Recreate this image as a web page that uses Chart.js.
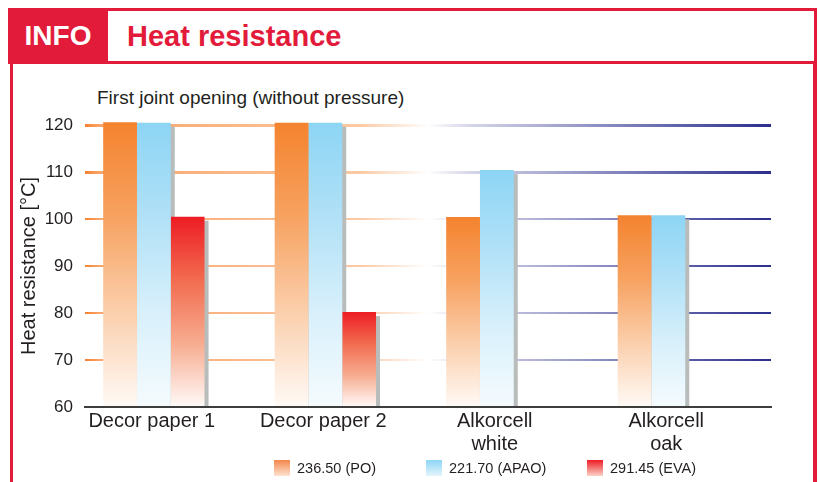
<!DOCTYPE html>
<html>
<head>
<meta charset="utf-8">
<script src="https://cdn.jsdelivr.net/npm/chart.js@4.4.1/dist/chart.umd.min.js"></script>
<style>
  body { margin: 0; width: 820px; height: 482px; overflow: hidden; background: #fff; position: relative;
         font-family: "Liberation Sans", Arial, sans-serif; color: #231f20; }
  .head { position: absolute; left: 8px; top: 8px; width: 803px; height: 50px; border: 3px solid #e31b3b; }
  .info { position: absolute; left: 8px; top: 8px; width: 100px; height: 56px; background: #e31b3b; color: #fff;
          font-weight: bold; font-size: 28px; line-height: 56px; text-align: center; }
  .title { position: absolute; left: 127px; top: 8px; line-height: 56px; font-size: 29px; font-weight: bold; color: #e31b3b; }
  .frame { position: absolute; left: 10px; top: 64px; width: 800px; height: 440px;
           border-left: 3px solid #e31b3b; border-right: 4px solid #e31b3b; }
  .sub { position: absolute; left: 97px; top: 87px; font-size: 19px; }
  .wrap { position: absolute; left: 13px; top: 64px; width: 799px; height: 401px; }
  #legend { position: absolute; left: 274px; top: 459px; display: grid; grid-template-columns: 152px 161px auto;
            font-size: 14.5px; line-height: 18px; }
  #legend span.sw { display: inline-block; width: 16px; height: 16px; margin-right: 7px; vertical-align: -3px; }
</style>
</head>
<body>
<div class="frame"></div>
<div class="head"></div>
<div class="info">INFO</div>
<div class="title">Heat resistance</div>
<div class="sub">First joint opening (without pressure)</div>
<div class="wrap"><canvas id="heatChart"></canvas></div>
<div id="legend"></div>

<script>
const categories = [["Decor paper 1"], ["Decor paper 2"], ["Alkorcell", "white"], ["Alkorcell", "oak"]];
const poValues = [120.6, 120.5, 100.4, 100.8];
const apaoValues = [120.5, 120.5, 110.4, 100.8];
const evaValues = [100.5, 80.2, null, null];
const seriesLabels = ["236.50 (PO)", "221.70 (APAO)", "291.45 (EVA)"];
const yTicks = [60, 70, 80, 90, 100, 110, 120];

const poStops = ["#f4832e", "#f7a261", "#fbcfac", "#fffaf6"];
const apaoStops = ["#8dd5f5", "#b1e1f7", "#d8f0fb", "#f5fbfe"];
const evaStops = ["#ed1c24", "#f26c50", "#f7ac90", "#fffaf8"];

// vertical gradient for each bar, from its top down to the axis
function barFill(stops) {
  return (context) => {
    const chart = context.chart;
    const area = chart.chartArea;
    if (!area || context.raw == null) return stops[0];
    const top = chart.scales.y.getPixelForValue(context.raw);
    const g = chart.ctx.createLinearGradient(0, top, 0, area.bottom);
    stops.forEach((c, i) => g.addColorStop(i / (stops.length - 1), c));
    return g;
  };
}

// grid lines run orange on the left into navy on the right
function gridColor(context) {
  if (context.tick && context.tick.value === 60) return "rgba(0,0,0,0)";
  const area = context.chart.chartArea;
  if (!area) return "#f8a86e";
  const g = context.chart.ctx.createLinearGradient(area.left, 0, area.right, 0);
  g.addColorStop(0, "#f5812c");
  g.addColorStop(0.02, "#f8a468");
  g.addColorStop(0.4, "#fbc9a3");
  g.addColorStop(0.5, "#ffffff");
  g.addColorStop(0.56, "#d6d6e9");
  g.addColorStop(0.78, "#8183bc");
  g.addColorStop(1, "#2b2e8c");
  return g;
}

// grey drop shadow behind every bar, painted before the bars themselves
const barShadow = {
  id: "barShadow",
  beforeDatasetsDraw(chart) {
    const ctx = chart.ctx;
    const area = chart.chartArea;
    ctx.save();
    ctx.beginPath();
    ctx.rect(area.left, area.top - 12, area.right - area.left + 12, area.bottom - area.top + 12);
    ctx.clip();
    ctx.fillStyle = "#b8bcbb";
    chart.getSortedVisibleDatasetMetas().forEach((meta) => {
      meta.data.forEach((bar) => {
        const { x, y, base, width } = bar.getProps(["x", "y", "base", "width"], true);
        if (!isFinite(y) || !isFinite(x)) return;
        ctx.fillRect(x - width / 2 + 4, y + 4, width, base - y - 4);
      });
    });
    ctx.restore();
  }
};

const barClip = { left: 0, top: 12, right: 12, bottom: 0 };

function buildLegend(chart) {
  const box = document.getElementById("legend");
  box.innerHTML = "";
  chart.data.datasets.forEach((ds) => {
    if (!ds.swatch) return;
    const item = document.createElement("div");
    const sw = document.createElement("span");
    sw.className = "sw";
    sw.style.background = "linear-gradient(" + ds.swatch.join(",") + ")";
    item.appendChild(sw);
    item.appendChild(document.createTextNode(ds.label));
    box.appendChild(item);
  });
}

document.addEventListener("DOMContentLoaded", () => {
  const ctx = document.getElementById("heatChart").getContext("2d");
  const chart = new Chart(ctx, {
    type: "bar",
    data: {
      labels: categories,
      datasets: [
        { label: seriesLabels[0], data: poValues, backgroundColor: barFill(poStops), swatch: ["#f5864a", "#fde3d2"], clip: barClip },
        { label: seriesLabels[1], data: apaoValues, backgroundColor: barFill(apaoStops), swatch: ["#8dd5f5", "#e4f5fc"], clip: barClip },
        { label: seriesLabels[2], data: evaValues, backgroundColor: barFill(evaStops), swatch: ["#ed1c24", "#fbd3c8"], clip: barClip },
        // empty slot so each group sits left in its band
        { label: "", data: [null, null, null, null], backgroundColor: "rgba(0,0,0,0)" }
      ]
    },
    options: {
      responsive: true,
      maintainAspectRatio: false,
      animation: false,
      barPercentage: 1,
      categoryPercentage: 0.788,
      layout: { padding: { left: 4, right: 41, top: 61, bottom: 6 } },
      plugins: {
        legend: { display: false },
        tooltip: { enabled: false }
      },
      scales: {
        x: {
          offset: true,
          grid: { display: false, drawTicks: false },
          border: { display: true, color: "#3d3d3d", width: 2, z: 1 },
          ticks: {
            color: "#231f20",
            font: { family: "'Liberation Sans', Arial, sans-serif", size: 20, lineHeight: 1.15 },
            padding: 3,
            maxRotation: 0,
            autoSkip: false,
            labelOffset: -19
          }
        },
        y: {
          min: 60,
          max: 120,
          afterFit(scale) { scale.width = 68; },
          afterBuildTicks(scale) { scale.ticks = yTicks.map((v) => ({ value: v })); },
          border: { display: false },
          grid: {
            color: gridColor,
            lineWidth: (c) => (c.tick && c.tick.value >= 110 ? 3 : 2),
            drawTicks: false
          },
          ticks: {
            color: "#231f20",
            font: { family: "'Liberation Sans', Arial, sans-serif", size: 17 },
            padding: 12
          },
          title: {
            display: true,
            text: "Heat resistance [°C]",
            color: "#231f20",
            font: { family: "'Liberation Sans', Arial, sans-serif", size: 20 },
            padding: 0
          }
        }
      }
    },
    plugins: [barShadow]
  });
  buildLegend(chart);
});
</script>
</body>
</html>
